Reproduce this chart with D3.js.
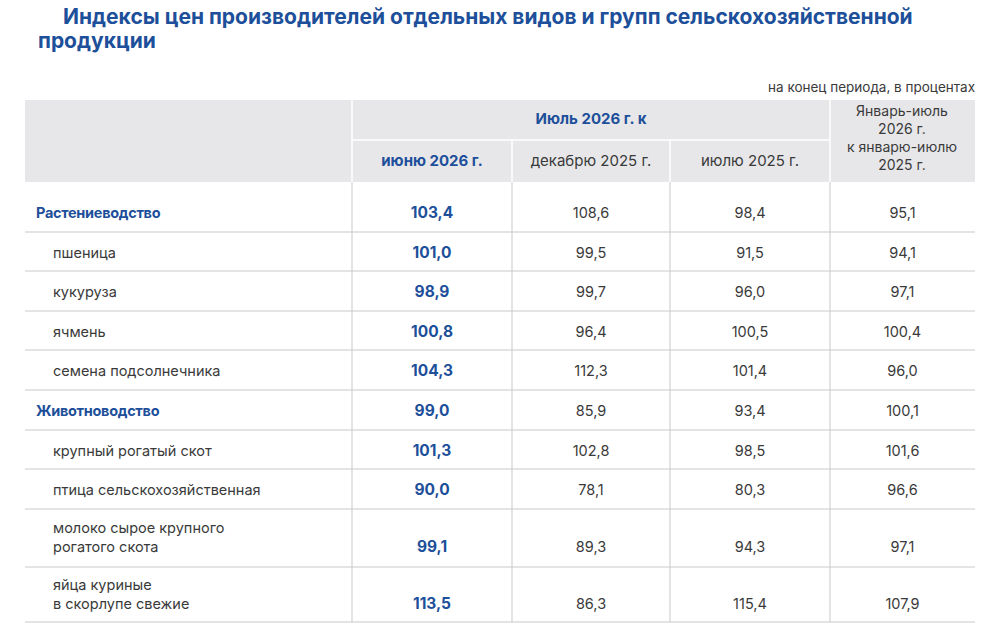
<!DOCTYPE html>
<html><head><meta charset="utf-8">
<script src="https://cdn.jsdelivr.net/npm/d3@7"></script>
<style>body{margin:0;background:#fff}svg{font-family:Inter,"Noto Sans",sans-serif}</style>
</head><body>
<svg id="c" width="1000" height="626"></svg>
<script>
// data
var labels = ["Растениеводство","пшеница","кукуруза","ячмень","семена подсолнечника",
  "Животноводство","крупный рогатый скот","птица сельскохозяйственная",
  "молоко сырое крупного|рогатого скота","яйца куриные|в скорлупе свежие"];
var groupRows = [0, 5];
var vsJune = [103.4,101.0,98.9,100.8,104.3,99.0,101.3,90.0,99.1,113.5];
var vsDec = [108.6,99.5,99.7,96.4,112.3,85.9,102.8,78.1,89.3,86.3];
var vsJul = [98.4,91.5,96.0,100.5,101.4,93.4,98.5,80.3,94.3,115.4];
var ytd = [95.1,94.1,97.1,100.4,96.0,100.1,101.6,96.6,97.1,107.9];
var colHeads = ["июню 2026 г.","декабрю 2025 г.","июлю 2025 г."];

var blue = "#1d4f9a", txt = "#3a3a3a", line = "#c9c9cc", hdr = "#e7e7e9";
var svg = d3.select("#c");
var fmt = function(v){ return d3.format(".1f")(v).replace(".", ","); };

// title
svg.append("text").attr("x",63).attr("y",24).attr("fill",blue).attr("font-size",21).attr("font-weight",700)
  .text("Индексы цен производителей отдельных видов и групп сельскохозяйственной");
svg.append("text").attr("x",38).attr("y",48).attr("fill",blue).attr("font-size",21).attr("font-weight",700)
  .text("продукции");
svg.append("text").attr("x",975).attr("y",92).attr("text-anchor","end").attr("fill",txt).attr("font-size",13.5)
  .text("на конец периода, в процентах");

var colX = [25,352,512,670,830,975];
// row boundaries
var rowH = [50,39,40,39,40,40,39,40,58,55];
var rowY = [182]; rowH.forEach(function(h,i){ rowY.push(rowY[i]+h); });

// header
svg.append("rect").attr("x",25).attr("y",100).attr("width",950).attr("height",82).attr("fill",hdr);
svg.append("line").attr("x1",352).attr("x2",830).attr("y1",140).attr("y2",140).attr("stroke","#fff").attr("stroke-width",1.5);
[352,830].forEach(function(x){ svg.append("line").attr("x1",x).attr("x2",x).attr("y1",100).attr("y2",182).attr("stroke","#fff").attr("stroke-width",1.5); });
[512,670].forEach(function(x){ svg.append("line").attr("x1",x).attr("x2",x).attr("y1",140).attr("y2",182).attr("stroke","#fff").attr("stroke-width",1.5); });
svg.append("text").attr("x",591).attr("y",124).attr("text-anchor","middle").attr("fill",blue).attr("font-size",15).attr("font-weight",700).text("Июль 2026 г. к");
colHeads.forEach(function(h,i){
  svg.append("text").attr("x",(colX[i+1]+colX[i+2])/2).attr("y",166).attr("text-anchor","middle")
    .attr("fill",i==0?blue:txt).attr("font-size",15).attr("font-weight",i==0?700:400).text(h);
});
["Январь-июль","2026 г.","к январю-июлю","2025 г."].forEach(function(t,i){
  svg.append("text").attr("x",902).attr("y",116+i*18).attr("text-anchor","middle").attr("fill",txt).attr("font-size",14).text(t);
});

// grid lines
rowY.slice(1).forEach(function(y){
  svg.append("line").attr("x1",25).attr("x2",975).attr("y1",y).attr("y2",y).attr("stroke",line);
});
[352,512,670,830].forEach(function(x){
  svg.append("line").attr("x1",x).attr("x2",x).attr("y1",182).attr("y2",rowY[rowY.length-1]).attr("stroke",line);
});

// body
var cols = [vsJune, vsDec, vsJul, ytd];
labels.forEach(function(l,i){
  var isG = groupRows.indexOf(i) >= 0;
  var parts = l.split("|");
  var base = rowY[i] + rowH[i]/2 + 6 + (parts.length>1 ? 8 : 0) + (i==0 ? 5 : 0);
  parts.forEach(function(p,k){
    svg.append("text").attr("x",isG?36:53).attr("y",base - (parts.length-1-k)*19)
      .attr("fill",isG?blue:txt).attr("font-size",14.5).attr("font-weight",isG?700:400)
      .attr("letter-spacing",isG?-0.3:0).text(p);
  });
  cols.forEach(function(arr,c){
    svg.append("text").attr("x",(colX[c+1]+colX[c+2])/2).attr("y",base).attr("text-anchor","middle")
      .attr("fill",c==0?blue:txt).attr("font-size",c==0?15.5:14.5).attr("font-weight",c==0?700:400)
      .text(fmt(arr[i]));
  });
});
</script>
</body></html>
